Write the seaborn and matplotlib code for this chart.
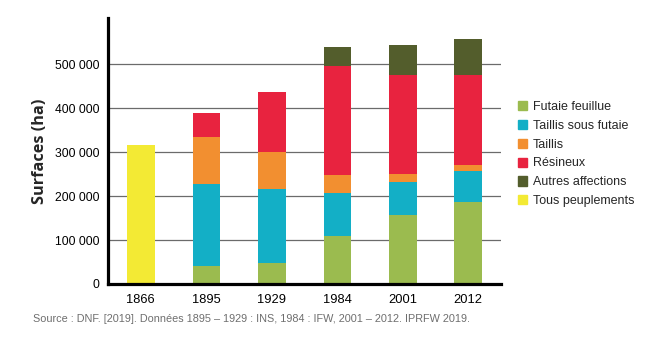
import matplotlib
matplotlib.use("Agg")
import matplotlib.pyplot as plt
import matplotlib.patches as mpatches
import numpy as np
import pandas as pd
import seaborn as sns

# Données (ha)
annees = ["1866", "1895", "1929", "1984", "2001", "2012"]
futaie_feuillue = [0, 41000, 47000, 110000, 158000, 187000]
taillis_sous_futaie = [0, 187000, 170000, 98000, 74000, 70000]
taillis = [0, 106000, 83000, 40000, 18000, 14000]
resineux = [0, 56000, 136000, 248000, 226000, 205000]
autres_affections = [0, 0, 0, 43000, 68000, 82000]
tous_peuplements = [316000, 0, 0, 0, 0, 0]

categories = ["Futaie feuillue", "Taillis sous futaie", "Taillis", "Résineux",
              "Autres affections", "Tous peuplements"]
couleurs = ["#9bbb4f", "#13afc6", "#f28f30", "#e8233f", "#535d2c", "#f3ea34"]
series = [futaie_feuillue, taillis_sous_futaie, taillis, resineux,
          autres_affections, tous_peuplements]

sns.set_style("white")
plt.rcParams["font.family"] = ["Liberation Sans", "DejaVu Sans"]

fig = plt.figure(figsize=(6.64, 3.51), dpi=100)
ax = fig.add_axes([0.1627, 0.1909, 0.5918, 0.7578])

# barres empilées
bas = np.zeros(len(annees))
for nom, vals, col in zip(categories, series, couleurs):
    df = pd.DataFrame({"annee": annees, "valeur": vals})
    sns.barplot(data=df, x="annee", y="valeur", order=annees, color=col,
                bottom=bas.copy(), width=0.42, linewidth=0, saturation=1,
                ax=ax, zorder=3)
    bas += np.array(vals)

ax.set_xlim(-0.5, 5.5)
ax.set_ylim(0, 605000)
ax.set_yticks(range(0, 600000, 100000))
ax.set_yticklabels(["0", "100 000", "200 000", "300 000", "400 000", "500 000"])
ax.yaxis.grid(True, color="#6b6b6b", linewidth=0.9, zorder=0)
ax.set_axisbelow(True)
ax.tick_params(axis="both", length=0, colors="black")
ax.tick_params(axis="y", pad=6, labelsize=8.7)
ax.tick_params(axis="x", pad=7, labelsize=9.3)

for s in ["top", "right"]:
    ax.spines[s].set_visible(False)
for s in ["left", "bottom"]:
    ax.spines[s].set_color("black")
    ax.spines[s].set_linewidth(2.3)
    ax.spines[s].set_zorder(5)

ax.set_xlabel("")
ax.set_ylabel("Surfaces (ha)", fontsize=11.7, fontweight="bold",
              family=["Open Sans", "DejaVu Sans"], labelpad=5)

poignees = [mpatches.Patch(color=c, label=n) for n, c in zip(categories, couleurs)]
fig.legend(handles=poignees, loc="upper left", bbox_to_anchor=(0.772, 0.727),
           frameon=False, fontsize=9, handlelength=0.75, handleheight=0.75,
           handletextpad=0.45, labelspacing=0.55, borderaxespad=0)

fig.text(0.05, 0.09,
         "Source : DNF. [2019]. Données 1895 – 1929 : INS, 1984 : IFW, 2001 – 2012. IPRFW 2019.",
         fontsize=7.8, color="#6e6e6e", va="center", ha="left")

fig.savefig("out.png", dpi=100)
